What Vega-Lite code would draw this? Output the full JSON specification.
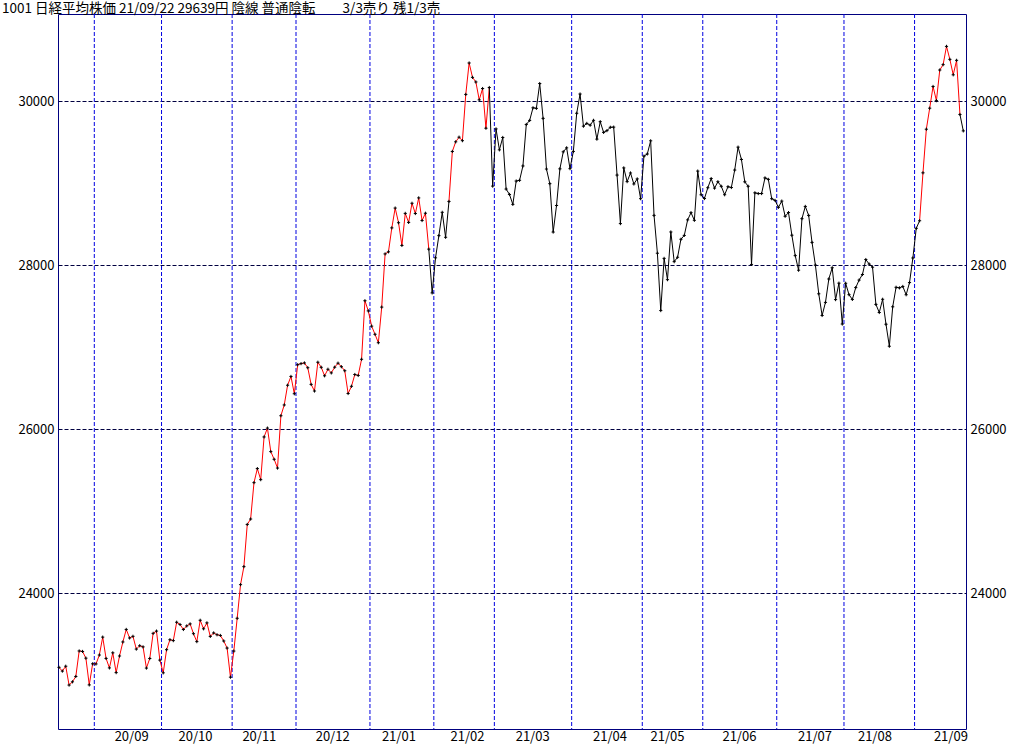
{
"$schema": "https://vega.github.io/schema/vega-lite/v6.json",
"width": 908,
"height": 715,
"autosize": {"type": "none"},
"padding": {"left": 58, "top": 14, "right": 58, "bottom": 16},
"background": "white",
"config": {"view": {"stroke": "#000080", "strokeWidth": 1}, "font": "Noto Sans CJK JP"},
"title": {"text": "1001 日経平均株価 21/09/22 29639円 陰線 普通陰転　　3/3売り 残1/3売", "anchor": "start", "frame": "group", "dx": -56, "offset": -2, "fontSize": 13.5, "fontWeight": "normal", "font": "Noto Sans CJK JP", "color": "black"},
"datasets": {
"months": [
{"start": 10.5, "mid": 21.6, "month": "20/09"},{"start": 30.5, "mid": 40.6, "month": "20/10"},{"start": 51.5, "mid": 59.6, "month": "20/11"},{"start": 70.5, "mid": 81.4, "month": "20/12"},{"start": 92.5, "mid": 101.1, "month": "21/01"},{"start": 111.5, "mid": 121.5, "month": "21/02"},{"start": 129.5, "mid": 140.9, "month": "21/03"},{"start": 152.5, "mid": 163.9, "month": "21/04"},{"start": 173.5, "mid": 181.0, "month": "21/05"},{"start": 191.5, "mid": 202.4, "month": "21/06"},{"start": 213.5, "mid": 224.9, "month": "21/07"},{"start": 233.5, "mid": 242.7, "month": "21/08"},{"start": 254.5, "mid": 265.3, "month": "21/09"}
],
"nk": [
{"i":0,"date":"2020-08-17","close":23096.75,"signal":"buy"},
{"i":1,"date":"2020-08-18","close":23051.08,"signal":"buy"},
{"i":2,"date":"2020-08-19","close":23110.61,"signal":"buy"},
{"i":3,"date":"2020-08-20","close":22880.62,"signal":"buy"},
{"i":4,"date":"2020-08-21","close":22920.30,"signal":"buy"},
{"i":5,"date":"2020-08-24","close":22985.51,"signal":"buy"},
{"i":6,"date":"2020-08-25","close":23296.77,"signal":"buy"},
{"i":7,"date":"2020-08-26","close":23290.86,"signal":"buy"},
{"i":8,"date":"2020-08-27","close":23208.86,"signal":"buy"},
{"i":9,"date":"2020-08-28","close":22882.65,"signal":"buy"},
{"i":10,"date":"2020-08-31","close":23139.76,"signal":"buy"},
{"i":11,"date":"2020-09-01","close":23138.07,"signal":"buy"},
{"i":12,"date":"2020-09-02","close":23247.15,"signal":"buy"},
{"i":13,"date":"2020-09-03","close":23465.53,"signal":"buy"},
{"i":14,"date":"2020-09-04","close":23205.43,"signal":"buy"},
{"i":15,"date":"2020-09-07","close":23089.95,"signal":"buy"},
{"i":16,"date":"2020-09-08","close":23274.13,"signal":"buy"},
{"i":17,"date":"2020-09-09","close":23032.54,"signal":"buy"},
{"i":18,"date":"2020-09-10","close":23235.47,"signal":"buy"},
{"i":19,"date":"2020-09-11","close":23406.49,"signal":"buy"},
{"i":20,"date":"2020-09-14","close":23559.30,"signal":"buy"},
{"i":21,"date":"2020-09-15","close":23454.89,"signal":"buy"},
{"i":22,"date":"2020-09-16","close":23475.53,"signal":"buy"},
{"i":23,"date":"2020-09-17","close":23319.37,"signal":"buy"},
{"i":24,"date":"2020-09-18","close":23360.30,"signal":"buy"},
{"i":25,"date":"2020-09-23","close":23346.49,"signal":"buy"},
{"i":26,"date":"2020-09-24","close":23087.82,"signal":"buy"},
{"i":27,"date":"2020-09-25","close":23204.62,"signal":"buy"},
{"i":28,"date":"2020-09-28","close":23511.62,"signal":"buy"},
{"i":29,"date":"2020-09-29","close":23539.10,"signal":"buy"},
{"i":30,"date":"2020-09-30","close":23185.12,"signal":"buy"},
{"i":31,"date":"2020-10-02","close":23029.90,"signal":"buy"},
{"i":32,"date":"2020-10-05","close":23312.14,"signal":"buy"},
{"i":33,"date":"2020-10-06","close":23433.73,"signal":"buy"},
{"i":34,"date":"2020-10-07","close":23422.82,"signal":"buy"},
{"i":35,"date":"2020-10-08","close":23647.07,"signal":"buy"},
{"i":36,"date":"2020-10-09","close":23619.69,"signal":"buy"},
{"i":37,"date":"2020-10-12","close":23558.69,"signal":"buy"},
{"i":38,"date":"2020-10-13","close":23601.78,"signal":"buy"},
{"i":39,"date":"2020-10-14","close":23626.73,"signal":"buy"},
{"i":40,"date":"2020-10-15","close":23507.23,"signal":"buy"},
{"i":41,"date":"2020-10-16","close":23410.63,"signal":"buy"},
{"i":42,"date":"2020-10-19","close":23671.13,"signal":"buy"},
{"i":43,"date":"2020-10-20","close":23567.04,"signal":"buy"},
{"i":44,"date":"2020-10-21","close":23639.46,"signal":"buy"},
{"i":45,"date":"2020-10-22","close":23474.27,"signal":"buy"},
{"i":46,"date":"2020-10-23","close":23516.59,"signal":"buy"},
{"i":47,"date":"2020-10-26","close":23494.34,"signal":"buy"},
{"i":48,"date":"2020-10-27","close":23485.80,"signal":"buy"},
{"i":49,"date":"2020-10-28","close":23418.51,"signal":"buy"},
{"i":50,"date":"2020-10-29","close":23331.94,"signal":"buy"},
{"i":51,"date":"2020-10-30","close":22977.13,"signal":"buy"},
{"i":52,"date":"2020-11-02","close":23295.48,"signal":"buy"},
{"i":53,"date":"2020-11-04","close":23695.23,"signal":"buy"},
{"i":54,"date":"2020-11-05","close":24105.28,"signal":"buy"},
{"i":55,"date":"2020-11-06","close":24325.23,"signal":"buy"},
{"i":56,"date":"2020-11-09","close":24839.84,"signal":"buy"},
{"i":57,"date":"2020-11-10","close":24905.59,"signal":"buy"},
{"i":58,"date":"2020-11-11","close":25349.60,"signal":"buy"},
{"i":59,"date":"2020-11-12","close":25520.88,"signal":"buy"},
{"i":60,"date":"2020-11-13","close":25385.87,"signal":"buy"},
{"i":61,"date":"2020-11-16","close":25906.93,"signal":"buy"},
{"i":62,"date":"2020-11-17","close":26014.62,"signal":"buy"},
{"i":63,"date":"2020-11-18","close":25728.14,"signal":"buy"},
{"i":64,"date":"2020-11-19","close":25634.34,"signal":"buy"},
{"i":65,"date":"2020-11-20","close":25527.37,"signal":"buy"},
{"i":66,"date":"2020-11-24","close":26165.59,"signal":"buy"},
{"i":67,"date":"2020-11-25","close":26296.86,"signal":"buy"},
{"i":68,"date":"2020-11-26","close":26537.31,"signal":"buy"},
{"i":69,"date":"2020-11-27","close":26644.71,"signal":"buy"},
{"i":70,"date":"2020-11-30","close":26433.62,"signal":"buy"},
{"i":71,"date":"2020-12-01","close":26787.54,"signal":"buy"},
{"i":72,"date":"2020-12-02","close":26800.98,"signal":"buy"},
{"i":73,"date":"2020-12-03","close":26809.37,"signal":"buy"},
{"i":74,"date":"2020-12-04","close":26751.24,"signal":"buy"},
{"i":75,"date":"2020-12-07","close":26547.44,"signal":"buy"},
{"i":76,"date":"2020-12-08","close":26467.08,"signal":"buy"},
{"i":77,"date":"2020-12-09","close":26817.94,"signal":"buy"},
{"i":78,"date":"2020-12-10","close":26756.24,"signal":"buy"},
{"i":79,"date":"2020-12-11","close":26652.52,"signal":"buy"},
{"i":80,"date":"2020-12-14","close":26732.44,"signal":"buy"},
{"i":81,"date":"2020-12-15","close":26687.84,"signal":"buy"},
{"i":82,"date":"2020-12-16","close":26757.40,"signal":"buy"},
{"i":83,"date":"2020-12-17","close":26806.67,"signal":"buy"},
{"i":84,"date":"2020-12-18","close":26763.39,"signal":"buy"},
{"i":85,"date":"2020-12-21","close":26714.42,"signal":"buy"},
{"i":86,"date":"2020-12-22","close":26436.39,"signal":"buy"},
{"i":87,"date":"2020-12-23","close":26524.79,"signal":"buy"},
{"i":88,"date":"2020-12-24","close":26668.35,"signal":"buy"},
{"i":89,"date":"2020-12-25","close":26656.61,"signal":"buy"},
{"i":90,"date":"2020-12-28","close":26854.03,"signal":"buy"},
{"i":91,"date":"2020-12-29","close":27568.15,"signal":"buy"},
{"i":92,"date":"2020-12-30","close":27444.17,"signal":"buy"},
{"i":93,"date":"2021-01-04","close":27258.38,"signal":"buy"},
{"i":94,"date":"2021-01-05","close":27158.63,"signal":"buy"},
{"i":95,"date":"2021-01-06","close":27055.94,"signal":"buy"},
{"i":96,"date":"2021-01-07","close":27490.13,"signal":"buy"},
{"i":97,"date":"2021-01-08","close":28139.03,"signal":"buy"},
{"i":98,"date":"2021-01-12","close":28164.34,"signal":"buy"},
{"i":99,"date":"2021-01-13","close":28456.59,"signal":"buy"},
{"i":100,"date":"2021-01-14","close":28698.26,"signal":"buy"},
{"i":101,"date":"2021-01-15","close":28519.18,"signal":"buy"},
{"i":102,"date":"2021-01-18","close":28242.21,"signal":"buy"},
{"i":103,"date":"2021-01-19","close":28633.46,"signal":"buy"},
{"i":104,"date":"2021-01-20","close":28523.26,"signal":"buy"},
{"i":105,"date":"2021-01-21","close":28756.86,"signal":"buy"},
{"i":106,"date":"2021-01-22","close":28631.45,"signal":"buy"},
{"i":107,"date":"2021-01-25","close":28822.29,"signal":"buy"},
{"i":108,"date":"2021-01-26","close":28546.18,"signal":"buy"},
{"i":109,"date":"2021-01-27","close":28635.21,"signal":"buy"},
{"i":110,"date":"2021-01-28","close":28197.42,"signal":"buy"},
{"i":111,"date":"2021-01-29","close":27663.39,"signal":"sell"},
{"i":112,"date":"2021-02-01","close":28091.05,"signal":"sell"},
{"i":113,"date":"2021-02-02","close":28362.17,"signal":"sell"},
{"i":114,"date":"2021-02-03","close":28646.50,"signal":"sell"},
{"i":115,"date":"2021-02-04","close":28341.95,"signal":"sell"},
{"i":116,"date":"2021-02-05","close":28779.19,"signal":"sell"},
{"i":117,"date":"2021-02-08","close":29388.50,"signal":"buy"},
{"i":118,"date":"2021-02-09","close":29505.93,"signal":"buy"},
{"i":119,"date":"2021-02-10","close":29562.93,"signal":"buy"},
{"i":120,"date":"2021-02-12","close":29520.07,"signal":"buy"},
{"i":121,"date":"2021-02-15","close":30084.15,"signal":"buy"},
{"i":122,"date":"2021-02-16","close":30467.75,"signal":"buy"},
{"i":123,"date":"2021-02-17","close":30292.19,"signal":"buy"},
{"i":124,"date":"2021-02-18","close":30236.09,"signal":"buy"},
{"i":125,"date":"2021-02-19","close":30017.92,"signal":"buy"},
{"i":126,"date":"2021-02-22","close":30156.03,"signal":"buy"},
{"i":127,"date":"2021-02-24","close":29671.70,"signal":"buy"},
{"i":128,"date":"2021-02-25","close":30168.27,"signal":"buy"},
{"i":129,"date":"2021-02-26","close":28966.01,"signal":"sell"},
{"i":130,"date":"2021-03-01","close":29663.50,"signal":"sell"},
{"i":131,"date":"2021-03-02","close":29408.17,"signal":"sell"},
{"i":132,"date":"2021-03-03","close":29559.10,"signal":"sell"},
{"i":133,"date":"2021-03-04","close":28930.11,"signal":"sell"},
{"i":134,"date":"2021-03-05","close":28864.32,"signal":"sell"},
{"i":135,"date":"2021-03-08","close":28743.25,"signal":"sell"},
{"i":136,"date":"2021-03-09","close":29027.94,"signal":"sell"},
{"i":137,"date":"2021-03-10","close":29036.56,"signal":"sell"},
{"i":138,"date":"2021-03-11","close":29211.64,"signal":"sell"},
{"i":139,"date":"2021-03-12","close":29717.83,"signal":"sell"},
{"i":140,"date":"2021-03-15","close":29766.97,"signal":"sell"},
{"i":141,"date":"2021-03-16","close":29921.09,"signal":"sell"},
{"i":142,"date":"2021-03-17","close":29914.33,"signal":"sell"},
{"i":143,"date":"2021-03-18","close":30216.75,"signal":"sell"},
{"i":144,"date":"2021-03-19","close":29792.05,"signal":"sell"},
{"i":145,"date":"2021-03-22","close":29174.15,"signal":"sell"},
{"i":146,"date":"2021-03-23","close":28995.92,"signal":"sell"},
{"i":147,"date":"2021-03-24","close":28405.52,"signal":"sell"},
{"i":148,"date":"2021-03-25","close":28729.88,"signal":"sell"},
{"i":149,"date":"2021-03-26","close":29176.70,"signal":"sell"},
{"i":150,"date":"2021-03-29","close":29384.52,"signal":"sell"},
{"i":151,"date":"2021-03-30","close":29432.70,"signal":"sell"},
{"i":152,"date":"2021-03-31","close":29178.80,"signal":"sell"},
{"i":153,"date":"2021-04-01","close":29388.87,"signal":"sell"},
{"i":154,"date":"2021-04-02","close":29854.00,"signal":"sell"},
{"i":155,"date":"2021-04-05","close":30089.25,"signal":"sell"},
{"i":156,"date":"2021-04-06","close":29696.63,"signal":"sell"},
{"i":157,"date":"2021-04-07","close":29730.79,"signal":"sell"},
{"i":158,"date":"2021-04-08","close":29708.98,"signal":"sell"},
{"i":159,"date":"2021-04-09","close":29768.06,"signal":"sell"},
{"i":160,"date":"2021-04-12","close":29538.73,"signal":"sell"},
{"i":161,"date":"2021-04-13","close":29751.61,"signal":"sell"},
{"i":162,"date":"2021-04-14","close":29620.99,"signal":"sell"},
{"i":163,"date":"2021-04-15","close":29642.69,"signal":"sell"},
{"i":164,"date":"2021-04-16","close":29683.37,"signal":"sell"},
{"i":165,"date":"2021-04-19","close":29685.37,"signal":"sell"},
{"i":166,"date":"2021-04-20","close":29100.38,"signal":"sell"},
{"i":167,"date":"2021-04-21","close":28508.55,"signal":"sell"},
{"i":168,"date":"2021-04-22","close":29188.17,"signal":"sell"},
{"i":169,"date":"2021-04-23","close":29020.63,"signal":"sell"},
{"i":170,"date":"2021-04-26","close":29126.23,"signal":"sell"},
{"i":171,"date":"2021-04-27","close":28991.89,"signal":"sell"},
{"i":172,"date":"2021-04-28","close":29053.97,"signal":"sell"},
{"i":173,"date":"2021-04-30","close":28812.63,"signal":"sell"},
{"i":174,"date":"2021-05-06","close":29331.37,"signal":"sell"},
{"i":175,"date":"2021-05-07","close":29357.82,"signal":"sell"},
{"i":176,"date":"2021-05-10","close":29518.34,"signal":"sell"},
{"i":177,"date":"2021-05-11","close":28608.59,"signal":"sell"},
{"i":178,"date":"2021-05-12","close":28147.51,"signal":"sell"},
{"i":179,"date":"2021-05-13","close":27448.01,"signal":"sell"},
{"i":180,"date":"2021-05-14","close":28084.47,"signal":"sell"},
{"i":181,"date":"2021-05-17","close":27824.83,"signal":"sell"},
{"i":182,"date":"2021-05-18","close":28406.84,"signal":"sell"},
{"i":183,"date":"2021-05-19","close":28044.45,"signal":"sell"},
{"i":184,"date":"2021-05-20","close":28098.25,"signal":"sell"},
{"i":185,"date":"2021-05-21","close":28317.83,"signal":"sell"},
{"i":186,"date":"2021-05-24","close":28364.61,"signal":"sell"},
{"i":187,"date":"2021-05-25","close":28553.98,"signal":"sell"},
{"i":188,"date":"2021-05-26","close":28642.19,"signal":"sell"},
{"i":189,"date":"2021-05-27","close":28549.01,"signal":"sell"},
{"i":190,"date":"2021-05-28","close":29149.41,"signal":"sell"},
{"i":191,"date":"2021-05-31","close":28860.08,"signal":"sell"},
{"i":192,"date":"2021-06-01","close":28814.34,"signal":"sell"},
{"i":193,"date":"2021-06-02","close":28946.14,"signal":"sell"},
{"i":194,"date":"2021-06-03","close":29058.11,"signal":"sell"},
{"i":195,"date":"2021-06-04","close":28941.52,"signal":"sell"},
{"i":196,"date":"2021-06-07","close":29019.24,"signal":"sell"},
{"i":197,"date":"2021-06-08","close":28963.56,"signal":"sell"},
{"i":198,"date":"2021-06-09","close":28860.80,"signal":"sell"},
{"i":199,"date":"2021-06-10","close":28958.56,"signal":"sell"},
{"i":200,"date":"2021-06-11","close":28948.73,"signal":"sell"},
{"i":201,"date":"2021-06-14","close":29161.80,"signal":"sell"},
{"i":202,"date":"2021-06-15","close":29441.30,"signal":"sell"},
{"i":203,"date":"2021-06-16","close":29291.01,"signal":"sell"},
{"i":204,"date":"2021-06-17","close":29018.33,"signal":"sell"},
{"i":205,"date":"2021-06-18","close":28964.08,"signal":"sell"},
{"i":206,"date":"2021-06-21","close":28010.93,"signal":"sell"},
{"i":207,"date":"2021-06-22","close":28884.13,"signal":"sell"},
{"i":208,"date":"2021-06-23","close":28874.89,"signal":"sell"},
{"i":209,"date":"2021-06-24","close":28875.23,"signal":"sell"},
{"i":210,"date":"2021-06-25","close":29066.18,"signal":"sell"},
{"i":211,"date":"2021-06-28","close":29048.02,"signal":"sell"},
{"i":212,"date":"2021-06-29","close":28812.61,"signal":"sell"},
{"i":213,"date":"2021-06-30","close":28791.53,"signal":"sell"},
{"i":214,"date":"2021-07-01","close":28707.04,"signal":"sell"},
{"i":215,"date":"2021-07-02","close":28783.28,"signal":"sell"},
{"i":216,"date":"2021-07-05","close":28598.19,"signal":"sell"},
{"i":217,"date":"2021-07-06","close":28643.21,"signal":"sell"},
{"i":218,"date":"2021-07-07","close":28366.95,"signal":"sell"},
{"i":219,"date":"2021-07-08","close":28118.03,"signal":"sell"},
{"i":220,"date":"2021-07-09","close":27940.42,"signal":"sell"},
{"i":221,"date":"2021-07-12","close":28569.02,"signal":"sell"},
{"i":222,"date":"2021-07-13","close":28718.24,"signal":"sell"},
{"i":223,"date":"2021-07-14","close":28608.49,"signal":"sell"},
{"i":224,"date":"2021-07-15","close":28279.09,"signal":"sell"},
{"i":225,"date":"2021-07-16","close":28003.08,"signal":"sell"},
{"i":226,"date":"2021-07-19","close":27652.74,"signal":"sell"},
{"i":227,"date":"2021-07-20","close":27388.16,"signal":"sell"},
{"i":228,"date":"2021-07-21","close":27548.00,"signal":"sell"},
{"i":229,"date":"2021-07-26","close":27833.29,"signal":"sell"},
{"i":230,"date":"2021-07-27","close":27970.22,"signal":"sell"},
{"i":231,"date":"2021-07-28","close":27581.66,"signal":"sell"},
{"i":232,"date":"2021-07-29","close":27782.42,"signal":"sell"},
{"i":233,"date":"2021-07-30","close":27283.59,"signal":"sell"},
{"i":234,"date":"2021-08-02","close":27781.02,"signal":"sell"},
{"i":235,"date":"2021-08-03","close":27641.83,"signal":"sell"},
{"i":236,"date":"2021-08-04","close":27584.08,"signal":"sell"},
{"i":237,"date":"2021-08-05","close":27728.12,"signal":"sell"},
{"i":238,"date":"2021-08-06","close":27820.04,"signal":"sell"},
{"i":239,"date":"2021-08-10","close":27888.15,"signal":"sell"},
{"i":240,"date":"2021-08-11","close":28070.51,"signal":"sell"},
{"i":241,"date":"2021-08-12","close":28015.02,"signal":"sell"},
{"i":242,"date":"2021-08-13","close":27977.15,"signal":"sell"},
{"i":243,"date":"2021-08-16","close":27523.19,"signal":"sell"},
{"i":244,"date":"2021-08-17","close":27424.47,"signal":"sell"},
{"i":245,"date":"2021-08-18","close":27585.91,"signal":"sell"},
{"i":246,"date":"2021-08-19","close":27281.17,"signal":"sell"},
{"i":247,"date":"2021-08-20","close":27013.25,"signal":"sell"},
{"i":248,"date":"2021-08-23","close":27494.24,"signal":"sell"},
{"i":249,"date":"2021-08-24","close":27732.10,"signal":"sell"},
{"i":250,"date":"2021-08-25","close":27724.80,"signal":"sell"},
{"i":251,"date":"2021-08-26","close":27742.29,"signal":"sell"},
{"i":252,"date":"2021-08-27","close":27641.14,"signal":"sell"},
{"i":253,"date":"2021-08-30","close":27789.29,"signal":"sell"},
{"i":254,"date":"2021-08-31","close":28089.54,"signal":"sell"},
{"i":255,"date":"2021-09-01","close":28451.02,"signal":"sell"},
{"i":256,"date":"2021-09-02","close":28543.51,"signal":"sell"},
{"i":257,"date":"2021-09-03","close":29128.11,"signal":"buy"},
{"i":258,"date":"2021-09-06","close":29659.89,"signal":"buy"},
{"i":259,"date":"2021-09-07","close":29916.14,"signal":"buy"},
{"i":260,"date":"2021-09-08","close":30181.21,"signal":"buy"},
{"i":261,"date":"2021-09-09","close":30008.19,"signal":"buy"},
{"i":262,"date":"2021-09-10","close":30381.84,"signal":"buy"},
{"i":263,"date":"2021-09-13","close":30447.37,"signal":"buy"},
{"i":264,"date":"2021-09-14","close":30670.10,"signal":"buy"},
{"i":265,"date":"2021-09-15","close":30511.71,"signal":"buy"},
{"i":266,"date":"2021-09-16","close":30323.34,"signal":"buy"},
{"i":267,"date":"2021-09-17","close":30500.05,"signal":"buy"},
{"i":268,"date":"2021-09-21","close":29839.71,"signal":"buy"},
{"i":269,"date":"2021-09-22","close":29639.40,"signal":"sell"}
]
},
"resolve": {"axis": {"y": "independent"}},
"layer": [
{
"data": {"name": "months"},
"mark": {"type": "rule", "color": "#0000e0", "strokeDash": [4, 2], "strokeWidth": 1},
"encoding": {
"x": {"field": "start", "type": "quantitative", "scale": {"domain": [-0.3, 269.8], "nice": false, "zero": false}, "axis": null}
}
},
{
"data": {"name": "months"},
"mark": {"type": "text", "baseline": "top", "align": "center", "dy": 2, "fontSize": 13, "font": "Noto Sans CJK JP", "color": "black", "clip": false},
"encoding": {
"x": {"field": "mid", "type": "quantitative", "scale": {"domain": [-0.3, 269.8], "nice": false, "zero": false}, "axis": null},
"y": {"datum": 22345, "type": "quantitative", "scale": {"domain": [22345, 31065], "nice": false, "zero": false}, "axis": null},
"text": {"field": "month"}
}
},
{
"data": {"name": "nk"},
"transform": [
{"window": [{"op": "lag", "field": "i", "as": "pi"}, {"op": "lag", "field": "close", "as": "pc"}], "sort": [{"field": "i"}]},
{"filter": "datum.pi != null"}
],
"mark": {"type": "rule", "strokeWidth": 1},
"encoding": {
"x": {"field": "pi", "type": "quantitative", "scale": {"domain": [-0.3, 269.8], "nice": false, "zero": false}, "axis": null},
"x2": {"field": "i"},
"y": {"field": "pc", "type": "quantitative", "scale": {"domain": [22345, 31065], "nice": false, "zero": false},
"axis": {"orient": "left", "values": [24000, 26000, 28000, 30000], "format": "d", "grid": true, "gridDash": [4, 2], "gridColor": "#000040", "gridWidth": 1, "ticks": false, "domain": false, "title": null, "labelFont": "Noto Sans CJK JP", "labelFontSize": 13, "labelColor": "black", "labelPadding": 4}},
"y2": {"field": "close"},
"color": {"field": "signal", "type": "nominal", "scale": {"domain": ["buy", "sell"], "range": ["#ff0000", "#000000"]}, "legend": null}
}
},
{
"data": {"name": "nk"},
"mark": {"type": "point", "shape": "M-1,0H1M0,-1V1", "filled": false, "stroke": "#000000", "strokeWidth": 1, "size": 10, "opacity": 1},
"encoding": {
"x": {"field": "i", "type": "quantitative", "scale": {"domain": [-0.3, 269.8], "nice": false, "zero": false}, "axis": null},
"y": {"field": "close", "type": "quantitative", "scale": {"domain": [22345, 31065], "nice": false, "zero": false},
"axis": {"orient": "right", "values": [24000, 26000, 28000, 30000], "format": "d", "grid": false, "ticks": false, "domain": false, "title": null, "labelFont": "Noto Sans CJK JP", "labelFontSize": 13, "labelColor": "black", "labelPadding": 4}}
}
}
]
}
